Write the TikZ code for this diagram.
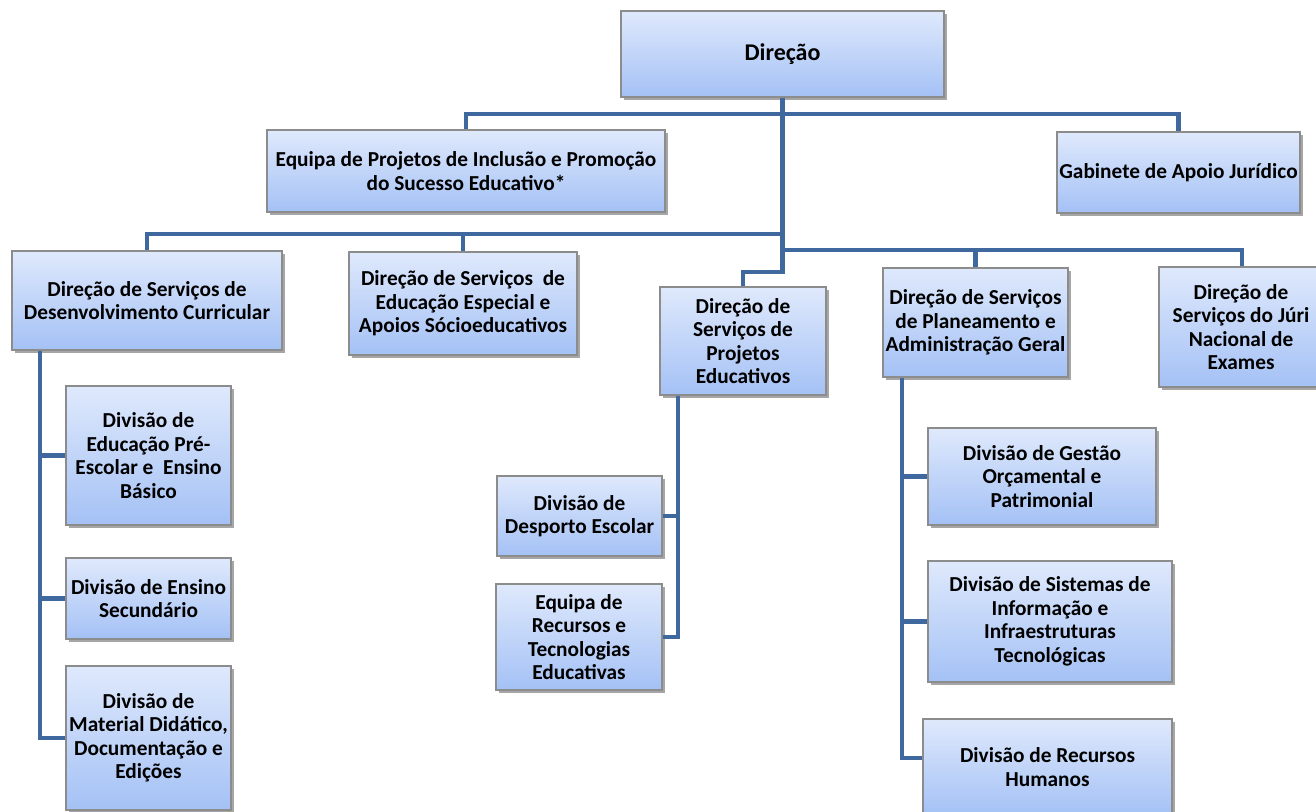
\documentclass[tikz,border=0pt]{standalone}
\usepackage{fontspec}
\setmainfont{Carlito}
\usepackage{tikz}
\usetikzlibrary{calc}
\usetikzlibrary{shadows}
\definecolor{boxtop}{RGB}{223,233,252}
\definecolor{boxbot}{RGB}{164,193,245}
\definecolor{boxline}{RGB}{140,140,140}
\definecolor{linkblue}{RGB}{62,104,158}
\begin{document}
\begin{tikzpicture}[x=0.75pt,y=-0.75pt,
	font=\fontsize{16}{17.6}\selectfont\bfseries,
	unit/.style={draw=boxline,line width=0.8pt,top color=boxtop,bottom color=boxbot,align=center,inner sep=1pt,
		drop shadow={shadow xshift=2pt,shadow yshift=-2pt,opacity=0.35,fill=black}},
	sz/.style 2 args={minimum width=#1*0.75pt,minimum height=#2*0.75pt},
	link/.style={draw=linkblue,line width=3.6pt,line join=miter}]
	\useasboundingbox (0,0) rectangle (1316,812);
	\node[unit,sz={323}{86},font=\fontsize{18}{20}\selectfont\bfseries] (dir) at (782.5,54) {Direção};
	\node[unit,sz={398}{82}] (eqproj) at (466,171) {Equipa de Projetos de Inclusão e Promoção\\do Sucesso Educativo*};
	\node[unit,sz={243}{81}] (gab) at (1178.5,172.5) {Gabinete de Apoio Jurídico};
	\node[unit,sz={270}{99}] (dsdc) at (147,300.5) {Direção de Serviços de\\Desenvolvimento Curricular};
	\node[unit,sz={228}{103}] (dsee) at (463,303.5) {Direção de Serviços\ \ de\\Educação Especial e\\Apoios Sócioeducativos};
	\node[unit,sz={166}{108}] (dspe) at (743,341) {Direção de\\Serviços de\\Projetos\\Educativos};
	\node[unit,sz={185}{109}] (dspag) at (975.5,322.5) {Direção de Serviços\\de Planeamento e\\Administração Geral};
	\node[unit,sz={164}{120}] (dsjne) at (1241,327) {Direção de\\Serviços do Júri\\Nacional de\\Exames};
	\node[unit,sz={165}{139}] (dpre) at (148.5,455.5) {Divisão de\\Educação Pré-\\Escolar e\ \ Ensino\\Básico};
	\node[unit,sz={165}{81}] (dsec) at (148.5,598.5) {Divisão de Ensino\\Secundário};
	\node[unit,sz={165}{144}] (dmat) at (148.5,738) {Divisão de\\Material Didático,\\Documentação e\\Edições};
	\node[unit,sz={165}{80}] (ddesp) at (579.5,516) {Divisão de\\Desporto Escolar};
	\node[unit,sz={166}{106}] (erte) at (579,637) {Equipa de\\Recursos e\\Tecnologias\\Educativas};
	\node[unit,sz={228}{97}] (dgop) at (1042,476.5) {Divisão de Gestão\\Orçamental e\\Patrimonial};
	\node[unit,sz={244}{121}] (dsit) at (1050,621.5) {Divisão de Sistemas de\\Informação e\\Infraestruturas\\Tecnológicas};
	\node[unit,sz={249}{96}] (drh) at (1047.5,767) {Divisão de Recursos\\Humanos};
	\draw[link] (dir.south) -- (782.5,272) -| (dspe.north);
	\draw[link] (eqproj.north) |- (782.5,114) -| (gab.north);
	\draw[link] (dsdc.north) |- (782.5,234);
	\draw[link] (dsee.north) -- (dsee.north |- 0,234);
	\draw[link] (782.5,250) -| (1242,0 |- dsjne.north);
	\draw[link] (dspag.north) -- (dspag.north |- 0,250);
	\draw[link] (40,0 |- dsdc.south) |- (dmat.west);
	\draw[link] (dpre.west) -- (40,0 |- dpre.west);
	\draw[link] (dsec.west) -- (40,0 |- dsec.west);
	\draw[link] (678,0 |- dspe.south) |- (erte.east);
	\draw[link] (ddesp.east) -- (678,0 |- ddesp.east);
	\draw[link] (902,0 |- dspag.south) |- (drh.west |- 0,758);
	\draw[link] (dgop.west) -- (902,0 |- dgop.west);
	\draw[link] (dsit.west) -- (902,0 |- dsit.west);
\end{tikzpicture}
\end{document}
